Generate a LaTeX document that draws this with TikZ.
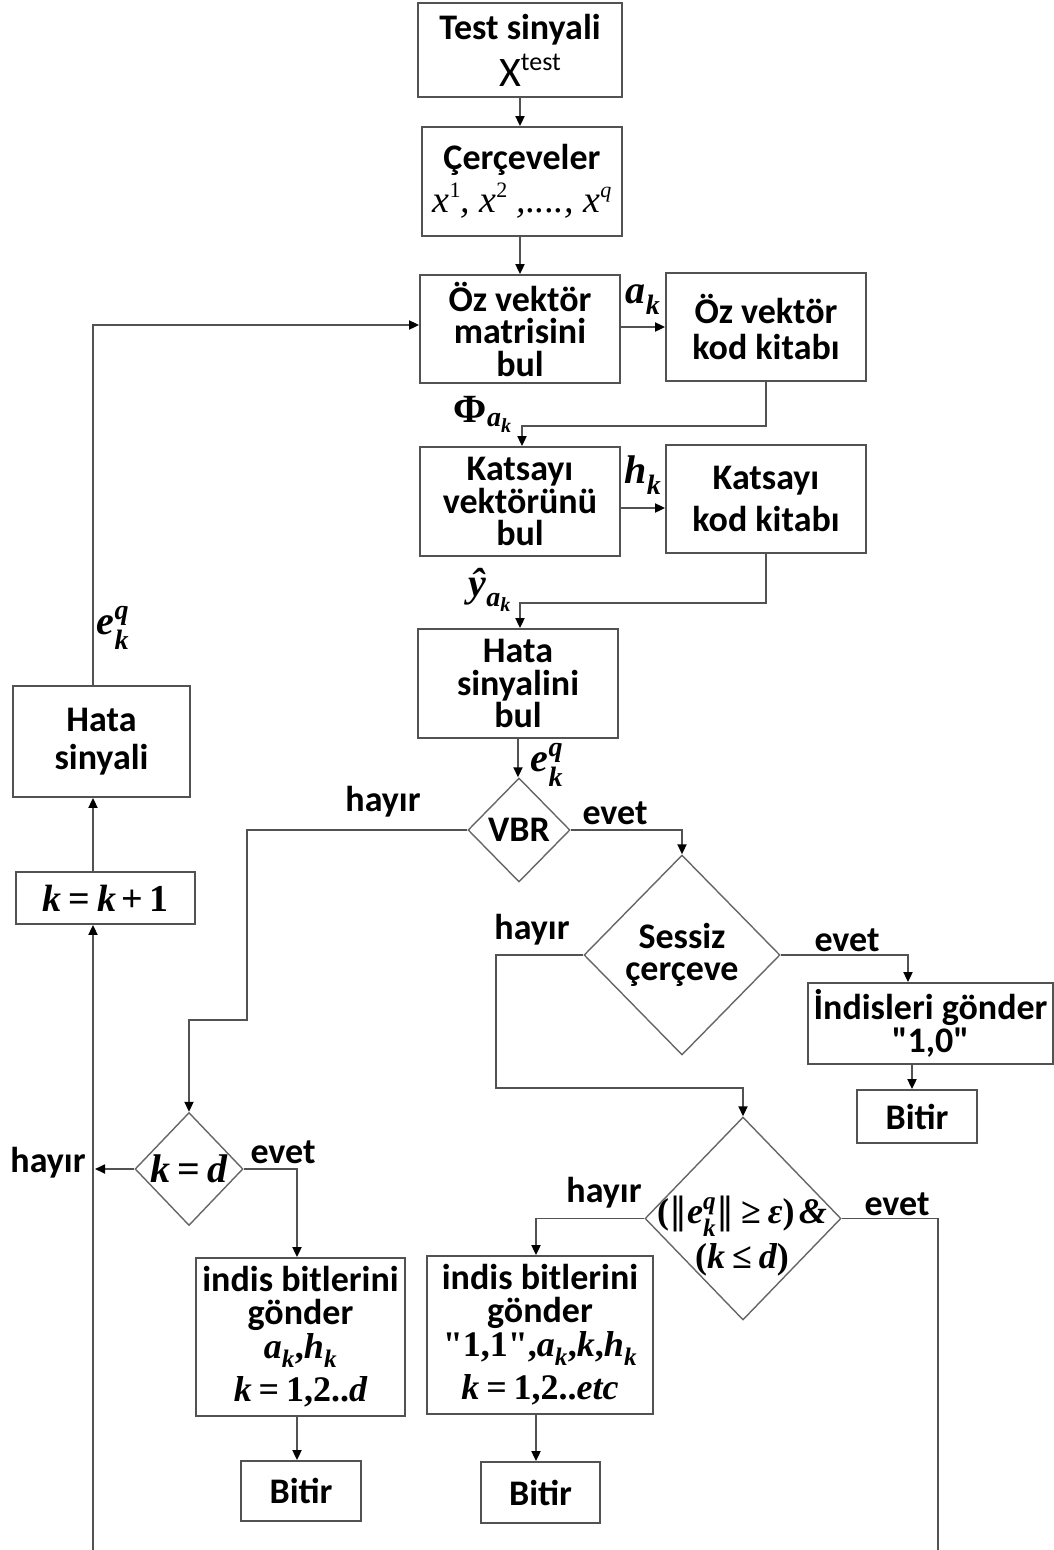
\documentclass[tikz,border=0pt]{standalone}
\usepackage{amsmath}
\usepackage{fontspec}
\setmainfont{Carlito}
\newfontfamily\carl{Carlito}
\newfontfamily\tnr{Liberation Serif}
\newfontfamily\djv{DejaVu Serif}
\usetikzlibrary{arrows.meta,shapes.geometric}

% text-font helpers for the formulas
\newcommand{\mbi}[1]{\text{\tnr\bfseries\itshape #1}}
\newcommand{\mbu}[1]{\text{\tnr\bfseries\upshape #1}}
\newcommand{\mri}[1]{\text{\normalfont\tnr\itshape #1}}
\newcommand{\mru}[1]{\text{\normalfont\tnr #1}}
\newcommand{\meq}{\mathrel{\mbu{=}}}
\newcommand{\mpl}{\mathbin{\mbu{+}}}
\newcommand{\mnorm}{\text{\normalfont\djv ‖}}
\newcommand{\upidx}[1]{\raisebox{15pt}{\fontsize{22}{22}\selectfont #1}}
\newcommand{\boxfont}{\fontsize{36}{32.5}\selectfont\bfseries}
\newcommand{\mathbig}{\fontsize{40}{40}\selectfont}

\begin{document}
\begin{tikzpicture}[x=1pt,y=-1pt,
  line/.style={draw=black!68,line width=1.8pt},
  arr/.style={line,-{Triangle[length=10pt,width=9pt,color=black]}},
  blk/.style={draw=black!68,line width=1.8pt,align=center,inner sep=0pt,font=\boxfont},
  dia/.style={diamond,draw=black!60,line width=1.4pt,inner sep=0pt},
  txt/.style={align=center,inner sep=0pt,font=\boxfont},
  lbl/.style={inner sep=0pt,font=\boxfont},
]
\useasboundingbox (0,0) rectangle (1054,1550);

% main column
\node[blk,minimum width=204,minimum height=94] (b1) at (520,50)
  {Test sinyali\\[8pt]\hspace*{20pt}{\mdseries\fontsize{42}{42}\selectfont X\raisebox{16pt}{\fontsize{26}{26}\selectfont test}}};
\node[blk,minimum width=200,minimum height=109] (b2) at (522,181.5)
  {Çerçeveler\\[6pt]{\normalfont\tnr\itshape\fontsize{38}{38}\selectfont
   x\upidx{\upshape 1}, x\upidx{\upshape 2} ,...., x\upidx{q}}};
\node[blk,minimum width=200,minimum height=108] (b3) at (520,329) {Öz vektör\\matrisini\\bul};
\node[blk,minimum width=200,minimum height=108] (b4) at (766,327) {Öz vektör\\[4pt]kod kitabı};
\node[blk,minimum width=200,minimum height=109] (b5) at (520,501.5) {Katsayı\\vektörünü\\bul};
\node[blk,minimum width=200,minimum height=108] (b6) at (766,499) {Katsayı\\[10pt]kod kitabı};
\node[blk,minimum width=200,minimum height=109] (b7) at (518,683.5) {Hata\\sinyalini\\bul};

% decisions
\node[dia,minimum width=102,minimum height=104] (d1) at (519,830) {};
\node[txt] (d1t) at (519,830) {VBR};
\node[dia,minimum width=196,minimum height=200] (d2) at (682,955) {};
\node[txt] (d2t) at (682,955) {Sessiz\\çerçeve};
\node[dia,minimum width=196,minimum height=203] (d3) at (743,1218.5) {};
\node[txt,font=\fontsize{36}{36}\selectfont] (d3t) at (742,1236)
  {$\mbu{(}\mnorm\mbi{e}_{\mbi{k}}^{\mbi{q}}\mnorm\mathrel{\mbu{≥}}\mbi{ε}\mbu{)}\,\mbi{\&}$\\[6pt]
   $\mbu{(}\mbi{k}\mathrel{\mbu{≤}}\mbi{d}\mbu{)}$};
\node[dia,minimum width=108,minimum height=113] (d4) at (189,1169) {};
\node[txt] (d4t) at (189,1169) {\mathbig$\mbi{k}\meq\mbi{d}$};

% right branch boxes
\node[blk,minimum width=245,minimum height=81] (b8) at (930.5,1023.5) {İndisleri gönder\\{\carl"1,0"}};
\node[blk,minimum width=120,minimum height=53] (b9) at (917,1116.5) {Bitir};
\node[blk,minimum width=226,minimum height=158] (b10) at (540,1335)
  {indis bitlerini\\gönder\\[2pt]
   $\mbu{"1,1",}\mbi{a}_{\mbi{k}}\mbu{,}\mbi{k}\mbu{,}\mbi{h}_{\mbi{k}}$\\[8pt]
   $\mbi{k}\meq\mbu{1,2..}\mri{\bfseries etc}$};
\node[blk,minimum width=119,minimum height=61] (b11) at (540.5,1492.5) {Bitir};
\node[blk,minimum width=209,minimum height=158] (b12) at (300.5,1337)
  {indis bitlerini\\gönder\\[2pt]
   $\mbi{a}_{\mbi{k}}\mbu{,}\mbi{h}_{\mbi{k}}$\\[8pt]
   $\mbi{k}\meq\mbu{1,2..}\mbi{d}$};
\node[blk,minimum width=120,minimum height=60] (b13) at (301,1491) {Bitir};

% left loop boxes
\node[blk,minimum width=179,minimum height=52] (b14) at (105.5,898)
  {\fontsize{38}{38}\selectfont$\mbi{k}\meq\mbi{k}\mpl\mbu{1}$};
\node[blk,minimum width=177,minimum height=111] (b15) at (101.5,741.5) {Hata\\[6pt]sinyali};

% bend points
\coordinate (c1) at (247,1020);
\coordinate (c2) at (496,1088);
\coordinate (c3) at (908,0);
\coordinate (c4) at (536,0);
\coordinate (c5) at (93,0);
\coordinate (c6) at (938,1550.5);
\coordinate (c7) at (297,0);
\coordinate (c8) at (912,0);

% connectors
\draw[arr] (b1.south) -- (b1.south |- b2.north);
\draw[arr] (b3.north |- b2.south) -- (b3.north);
\draw[arr] (b3.east |- b4.west) -- (b4.west);
\draw[arr] (b4.south) -- ++(0,44) -| ([xshift=2pt]b5.north);
\draw[arr] ([yshift=-6.5pt]b5.east) -- ([yshift=-6.5pt]b5.east -| b6.west);
\draw[arr] (b6.south) -- ++(0,49) -| ([xshift=2pt]b7.north);
\draw[arr] (b7.south) -- (b7.south |- d1.north);
\draw[arr] (d1.west) -| (c1) -| (d4.north);
\draw[arr] (d1.east) -| (d2.north);
\draw[arr] (d2.west) -| (c2) -| (d3.north);
\draw[arr] (d2.east) -| (b8.north -| c3);
\draw[arr] (b8.south -| c8) -- (b9.north -| c8);
\draw[arr] (d3.west) -| (b10.north -| c4);
\draw[arr] (b10.south -| c4) -- (b11.north -| c4);
\draw[arr] (d3.east) -| (c6) -| (b14.south -| c5);
\draw[arr] (b14.north -| c5) -- (b15.south -| c5);
\draw[arr] (b15.north -| c5) |- (b3.west |- 0,325);
\draw[arr] (d4.west) -- (d4.west -| 95,0);
\draw[arr] (d4.east) -| (b12.north -| c7);
\draw[arr] (b12.south -| c7) -- (b13.north -| c7);

% connector labels
\node[lbl] (la) at (643,300) {\mathbig$\mbi{a}_{\mbi{k}}$};
\node[lbl] (lh) at (643,475) {\mathbig$\mbi{h}_{\mbi{k}}$};
\node[lbl] (lphi) at (483,414) {\mathbig$\mbu{Φ}_{\mbi{a}_{\mbi{k}}}$};
\node[lbl] (ly) at (490,590) {\mathbig$\mbi{ŷ}_{\mbi{a}_{\mbi{k}}}$};
\node[lbl] (le1) at (547,765) {\mathbig$\mbi{e}_{\mbi{k}}^{\mbi{q}}$};
\node[lbl] (le2) at (113,628) {\mathbig$\mbi{e}_{\mbi{k}}^{\mbi{q}}$};
\node[lbl] (n1) at (383,802) {hayır};
\node[lbl] (y1) at (615,813) {evet};
\node[lbl] (n2) at (532,930) {hayır};
\node[lbl] (y2) at (847,940) {evet};
\node[lbl] (n3) at (604,1193) {hayır};
\node[lbl] (y3) at (897,1204) {evet};
\node[lbl] (n4) at (48,1163) {hayır};
\node[lbl] (y4) at (283,1152) {evet};
\end{tikzpicture}
\end{document}
